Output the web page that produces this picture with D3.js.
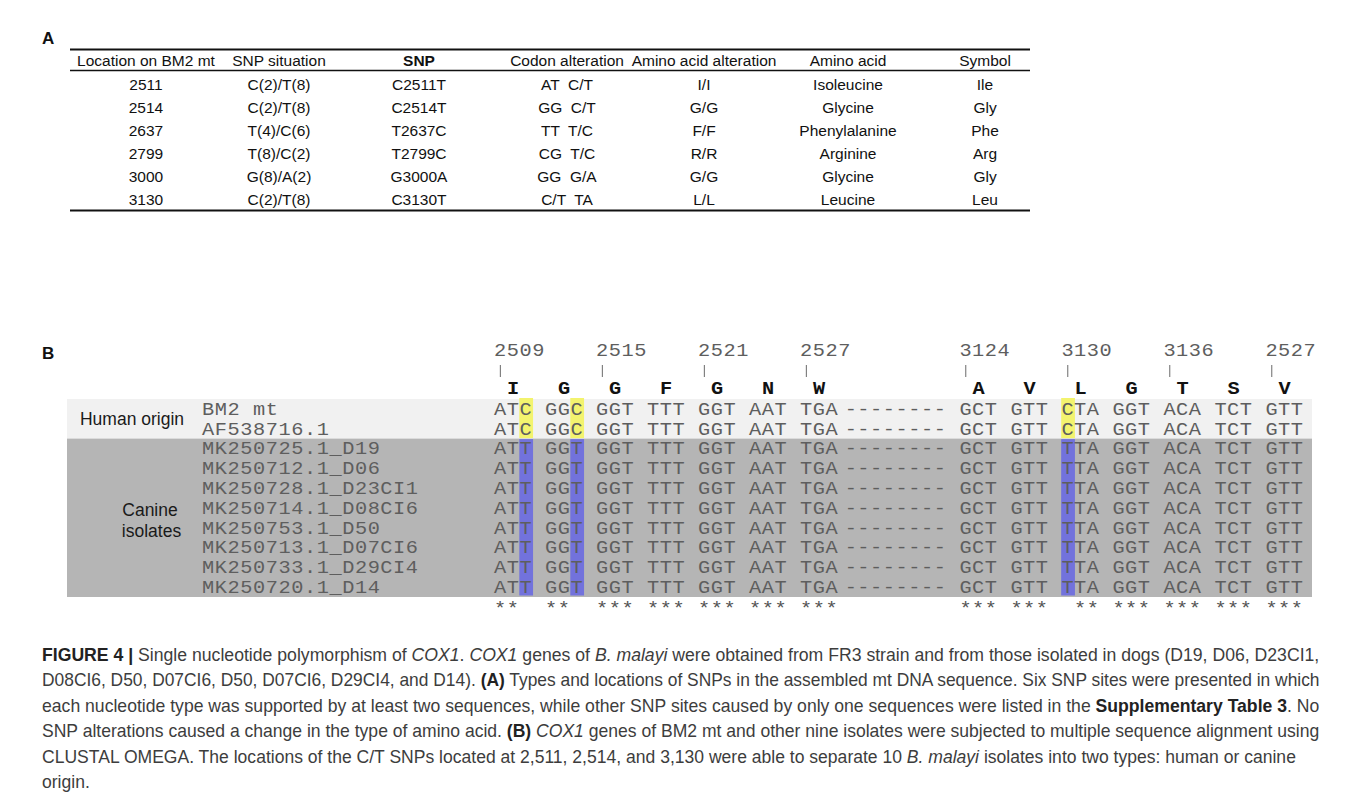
<!DOCTYPE html>
<html><head><meta charset="utf-8">
<script src="https://cdn.jsdelivr.net/npm/d3@7"></script>
<style>html,body{margin:0;padding:0;background:#fff;} svg{display:block;}</style>
</head><body>
<svg id="chart" width="1362" height="799"></svg>
<script>
// ---------- Panel A data ----------
const tableHeaders = ["Location on BM2 mt", "SNP situation", "SNP", "Codon alteration", "Amino acid alteration", "Amino acid", "Symbol"];
const locations = ["2511", "2514", "2637", "2799", "3000", "3130"];
const snpSituation = ["C(2)/T(8)", "C(2)/T(8)", "T(4)/C(6)", "T(8)/C(2)", "G(8)/A(2)", "C(2)/T(8)"];
const snps = ["C2511T", "C2514T", "T2637C", "T2799C", "G3000A", "C3130T"];
const codonAlteration = ["AT  C/T", "GG  C/T", "TT  T/C", "CG  T/C", "GG  G/A", "C/T  TA"];
const aaAlteration = ["I/I", "G/G", "F/F", "R/R", "G/G", "L/L"];
const aminoAcidNames = ["Isoleucine", "Glycine", "Phenylalanine", "Arginine", "Glycine", "Leucine"];
const aaSymbols = ["Ile", "Gly", "Phe", "Arg", "Gly", "Leu"];

// ---------- Panel B data ----------
const seqNames = ["BM2 mt", "AF538716.1", "MK250725.1_D19", "MK250712.1_D06", "MK250728.1_D23CI1", "MK250714.1_D08CI6",
                  "MK250753.1_D50", "MK250713.1_D07CI6", "MK250733.1_D29CI4", "MK250720.1_D14"];
const seqGroup = ["human", "human", "canine", "canine", "canine", "canine", "canine", "canine", "canine", "canine"];
const groupLabels = ["Human origin", "Canine isolates"];
const humanCodons  = ["ATC", "GGC", "GGT", "TTT", "GGT", "AAT", "TGA", "--------", "GCT", "GTT", "CTA", "GGT", "ACA", "TCT", "GTT"];
const canineCodons = ["ATT", "GGT", "GGT", "TTT", "GGT", "AAT", "TGA", "--------", "GCT", "GTT", "TTA", "GGT", "ACA", "TCT", "GTT"];
const codonStart = [0, 4, 8, 12, 16, 20, 24, 27.5, 36.5, 40.5, 44.5, 48.5, 52.5, 56.5, 60.5]; // character columns
const aminoLetters = ["I", "G", "G", "F", "G", "N", "W", "", "A", "V", "L", "G", "T", "S", "V"];
const positionLabels = ["2509", "", "2515", "", "2521", "", "2527", "", "3124", "", "3130", "", "3136", "", "2527"];
const conservation = ["**", "**", "***", "***", "***", "***", "***", "", "***", "***", " **", "***", "***", "***", "***"];
const snpCodon = [0, 1, 10];
const snpOffset = [2, 2, 0];

// ---------- Caption ----------
const captionLines = [
  "**FIGURE 4 |** Single nucleotide polymorphism of _COX1_. _COX1_ genes of _B. malayi_ were obtained from FR3 strain and from those isolated in dogs (D19, D06, D23CI1,",
  "D08CI6, D50, D07CI6, D50, D07CI6, D29CI4, and D14). **(A)** Types and locations of SNPs in the assembled mt DNA sequence. Six SNP sites were presented in which",
  "each nucleotide type was supported by at least two sequences, while other SNP sites caused by only one sequences were listed in the **Supplementary Table 3**. No",
  "SNP alterations caused a change in the type of amino acid. **(B)** _COX1_ genes of BM2 mt and other nine isolates were subjected to multiple sequence alignment using",
  "CLUSTAL OMEGA. The locations of the C/T SNPs located at 2,511, 2,514, and 3,130 were able to separate 10 _B. malayi_ isolates into two types: human or canine",
  "origin."
];

// ---------- Drawing ----------
const W = 1362, H = 799;
const sans = "Arial, 'Liberation Sans', Helvetica, sans-serif";
const mono = "'Courier New', 'Liberation Mono', monospace";
const svg = d3.select("#chart");
svg.append("rect").attr("width", W).attr("height", H).attr("fill", "#fff");

// Panel labels
svg.append("text").attr("x", 42).attr("y", 44).attr("font-family", sans).attr("font-weight", "bold")
   .attr("font-size", 17).attr("fill", "#111").text("A");
svg.append("text").attr("x", 42).attr("y", 359).attr("font-family", sans).attr("font-weight", "bold")
   .attr("font-size", 17).attr("fill", "#111").text("B");

// ----- Table -----
const colCenters = [146, 279, 419, 567, 704, 848, 985];
const colX = d3.scaleOrdinal().domain(tableHeaders).range(colCenters);
const rowY = d3.scaleBand().domain(locations).range([73.5, 210.5]);
const tableLeft = 70, tableRight = 1030;
const gA = svg.append("g");

gA.append("line").attr("x1", tableLeft).attr("x2", tableRight).attr("y1", 49.5).attr("y2", 49.5)
  .attr("stroke", "#111").attr("stroke-width", 2);
gA.append("line").attr("x1", tableLeft).attr("x2", tableRight).attr("y1", 70.5).attr("y2", 70.5)
  .attr("stroke", "#111").attr("stroke-width", 1.4);
gA.append("line").attr("x1", tableLeft).attr("x2", tableRight).attr("y1", rowY.range()[1]).attr("y2", rowY.range()[1])
  .attr("stroke", "#111").attr("stroke-width", 2);

gA.selectAll("text.hdr").data(tableHeaders).join("text").attr("class", "hdr")
  .attr("x", d => colX(d)).attr("y", 65.5).attr("text-anchor", "middle")
  .attr("font-family", sans).attr("font-size", 15.5).attr("fill", "#111")
  .attr("font-weight", d => d === "SNP" ? "bold" : "normal")
  .text(d => d);

const columns = [locations, snpSituation, snps, codonAlteration, aaAlteration, aminoAcidNames, aaSymbols];
const cells = [];
locations.forEach((loc, i) => columns.forEach((col, j) => cells.push({ row: loc, col: tableHeaders[j], v: col[i] })));
gA.selectAll("text.cell").data(cells).join("text").attr("class", "cell")
  .attr("x", d => colX(d.col)).attr("y", d => rowY(d.row) + rowY.bandwidth() / 2 + 5.5)
  .attr("text-anchor", "middle").attr("xml:space", "preserve").style("white-space", "pre")
  .attr("font-family", sans).attr("font-size", 15.5).attr("fill", "#111")
  .text(d => d.v);

// ----- Alignment -----
const charW = 12.75;
const monoSize = 17.5;
const sx = 1.16;                                   // widen glyphs like Courier
const monoSpacing = charW / sx - monoSize * 0.6001; // keep character pitch = charW
const xChar = d3.scaleLinear().domain([0, 64]).range([494, 494 + 64 * charW]);
const yRow = d3.scaleBand().domain(d3.range(seqNames.length)).range([399, 597]);
const gB = svg.append("g");
const bandLeft = 67, bandRight = 1312;
const seqFill = "#5e5e5e";

function monoStyle(sel, bold) {
  sel.attr("font-family", mono).attr("font-size", monoSize)
     .attr("letter-spacing", bold ? null : monoSpacing)
     .attr("font-weight", bold ? "bold" : null)
     .attr("xml:space", "preserve").style("white-space", "pre");
}
const place = (x, y) => `translate(${x},${y}) scale(${sx},1)`;

// group bands
const groups = [
  { key: "human", fill: "#f1f1f1" },
  { key: "canine", fill: "#b5b5b5" }
];
groups.forEach(g => {
  const idx = seqGroup.map((s, i) => s === g.key ? i : -1).filter(i => i >= 0);
  const y0 = yRow(idx[0]), y1 = yRow(idx[idx.length - 1]) + yRow.bandwidth();
  gB.append("rect").attr("x", bandLeft).attr("y", y0).attr("width", bandRight - bandLeft).attr("height", y1 - y0)
    .attr("fill", g.fill);
  g.y0 = y0; g.y1 = y1;
});

// SNP highlight columns
snpCodon.forEach((c, k) => {
  const xs = xChar(codonStart[c] + snpOffset[k]);
  gB.append("rect").attr("x", xs - 0.2).attr("width", charW + 1)
    .attr("y", groups[0].y0 - 1).attr("height", groups[0].y1 - groups[0].y0 + 0.5).attr("fill", "#f3f36e");
  gB.append("rect").attr("x", xs - 0.2).attr("width", charW + 1)
    .attr("y", groups[1].y0 + 0.5).attr("height", groups[1].y1 - groups[1].y0 - 2).attr("fill", "#7272dc");
});

// group labels
gB.append("text").attr("x", 132).attr("y", (groups[0].y0 + groups[0].y1) / 2 + 6)
  .attr("text-anchor", "middle").attr("font-family", sans).attr("font-size", 17.5).attr("fill", "#1a1a1a")
  .text(groupLabels[0]);
const canineLbl = gB.append("text").attr("font-family", sans).attr("font-size", 17.5).attr("fill", "#1a1a1a")
  .attr("text-anchor", "middle");
const canineWords = groupLabels[1].split(" ");
canineLbl.append("tspan").attr("x", 150).attr("y", 516).text(canineWords[0]);
canineLbl.append("tspan").attr("x", 151.5).attr("y", 537).text(canineWords[1]);

// sequence names
const baseOff = 5.8;
gB.selectAll("text.name").data(seqNames).join("text").attr("class", "name")
  .attr("transform", (d, i) => place(202, yRow(i) + yRow.bandwidth() / 2 + baseOff))
  .call(monoStyle, false).attr("fill", seqFill)
  .text(d => d);

// codons
const seqCells = [];
seqNames.forEach((n, i) => {
  const codons = seqGroup[i] === "human" ? humanCodons : canineCodons;
  codons.forEach((cd, c) => seqCells.push({ r: i, c, t: cd }));
});
gB.selectAll("text.codon").data(seqCells).join("text").attr("class", "codon")
  .attr("transform", d => place(xChar(codonStart[d.c]), yRow(d.r) + yRow.bandwidth() / 2 + baseOff))
  .call(monoStyle, false).attr("fill", seqFill)
  .text(d => d.t);

// amino acid letters
gB.selectAll("text.aa").data(aminoLetters.map((a, c) => ({ a, c })).filter(d => d.a)).join("text").attr("class", "aa")
  .attr("transform", d => place(xChar(codonStart[d.c] + 1.5), 394))
  .attr("text-anchor", "middle")
  .call(monoStyle, true).attr("fill", "#111")
  .text(d => d.a);

// position labels and ticks
const posData = positionLabels.map((p, c) => ({ p, c })).filter(d => d.p);
gB.selectAll("text.pos").data(posData).join("text").attr("class", "pos")
  .attr("transform", d => place(xChar(codonStart[d.c]), 356))
  .call(monoStyle, false).attr("fill", seqFill)
  .text(d => d.p);
gB.selectAll("line.tick").data(posData).join("line").attr("class", "tick")
  .attr("x1", d => xChar(codonStart[d.c] + 0.5)).attr("x2", d => xChar(codonStart[d.c] + 0.5))
  .attr("y1", 365).attr("y2", 377).attr("stroke", "#777").attr("stroke-width", 1.1);

// conservation stars
gB.selectAll("text.cons").data(conservation.map((s, c) => ({ s, c })).filter(d => d.s)).join("text").attr("class", "cons")
  .attr("transform", d => place(xChar(codonStart[d.c]), 614))
  .call(monoStyle, false).attr("fill", "#555")
  .text(d => d.s);

// ----- Caption -----
const capX = 42, capRight = 1320, capY0 = 661, capStep = 25.4;
const gC = svg.append("g");
function parseLine(s) {
  const out = [];
  const re = /(\*\*[^*]+\*\*|_[^_]+_)/g;
  let last = 0, m;
  while ((m = re.exec(s)) !== null) {
    if (m.index > last) out.push({ t: s.slice(last, m.index), b: false, i: false });
    const tok = m[0];
    if (tok.startsWith("**")) out.push({ t: tok.slice(2, -2), b: true, i: false });
    else out.push({ t: tok.slice(1, -1), b: false, i: true });
    last = m.index + tok.length;
  }
  if (last < s.length) out.push({ t: s.slice(last), b: false, i: false });
  return out;
}
const capTexts = captionLines.map((line, li) => {
  const t = gC.append("text").attr("font-family", sans).attr("font-size", 17.5).attr("fill", "#3d3d3d")
    .attr("xml:space", "preserve").style("white-space", "pre");
  parseLine(line).forEach(seg => {
    t.append("tspan").text(seg.t)
      .attr("font-weight", seg.b ? "bold" : null)
      .attr("font-style", seg.i ? "italic" : null)
      .attr("fill", seg.b ? "#222" : null);
  });
  return t;
});
const widths = capTexts.map(t => t.node().getComputedTextLength());
const targetW = capRight - capX;
const ks = widths.slice(0, 4).map(w => targetW / w);
const kMean = d3.mean(ks);
capTexts.forEach((t, li) => {
  const k = li < 4 ? ks[li] : kMean;
  t.attr("transform", `translate(${capX},${capY0 + li * capStep}) scale(${k},1)`);
});
</script>
</body></html>
